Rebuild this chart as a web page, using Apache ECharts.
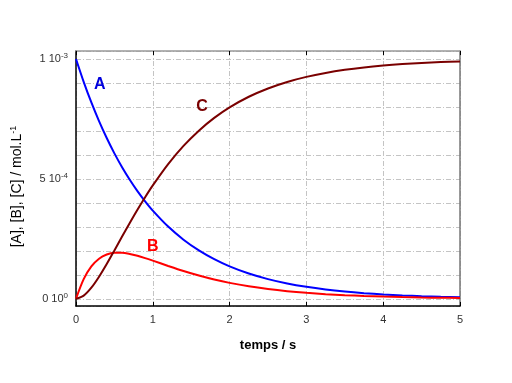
<!DOCTYPE html>
<html>
<head>
<meta charset="utf-8">
<script src="https://cdn.jsdelivr.net/npm/echarts@6/dist/echarts.min.js"></script>
<style>html,body{margin:0;padding:0;background:#fff}#c{width:512px;height:383px}</style>
</head>
<body>
<div id="c"></div>
<script>
// time (s)
var timeS = [0,0.1,0.2,0.3,0.4,0.5,0.6,0.7,0.8,0.9,1.0,1.2,1.4,1.6,1.8,2.0,2.25,2.5,2.75,3.0,3.25,3.5,3.75,4.0,4.25,4.5,4.75,5.0];
// concentrations in units of 1e-3 mol/L
var concA = [1,0.9048,0.8187,0.7408,0.6703,0.6065,0.5488,0.4966,0.4493,0.4066,0.3679,0.3012,0.2466,0.2019,0.1653,0.1353,0.1054,0.0821,0.0639,0.0498,0.0388,0.0302,0.0235,0.0183,0.0143,0.0111,0.0087,0.0067];
var concB = [0,0.0820,0.1350,0.1671,0.1846,0.1917,0.1918,0.1871,0.1793,0.1697,0.1591,0.1370,0.1158,0.0969,0.0804,0.0664,0.0521,0.0408,0.0318,0.0248,0.0194,0.0151,0.0118,0.0092,0.0071,0.0056,0.0043,0.0034];
var concC = [0,0.0132,0.0463,0.0921,0.1451,0.2018,0.2594,0.3163,0.3714,0.4237,0.4730,0.5618,0.6376,0.7012,0.7543,0.7983,0.8425,0.8771,0.9043,0.9254,0.9418,0.9547,0.9647,0.9725,0.9786,0.9833,0.9870,0.9899];
var xTicks = [0,1,2,3,4,5];
var yTickLabels = {'0':'0 10{s|0}','0.5':'5 10{s|-4}','1':'1 10{s|-3}'};

function pairs(v){ return timeS.map(function(t,i){return [t,v[i]];}); }

var chart = echarts.init(document.getElementById('c'));
var splitStyle = {color:'#c4c4c4', width:1, type:[5,2,1,2]};
var fontFam = 'Liberation Sans, Arial, sans-serif';
function lbl(text,color){
  return {symbol:'circle',symbolSize:1,itemStyle:{color:'rgba(0,0,0,0)'},
    label:{show:true,position:'inside',formatter:text,color:color,fontSize:16,fontWeight:'bold',fontFamily:fontFam}};
}
chart.setOption({
  animation:false,
  backgroundColor:'#fff',
  grid:{left:76,right:52,top:51,bottom:77,containLabel:false},
  xAxis:[{
    type:'value',min:0,max:5,interval:1,position:'bottom',
    name:'temps / s',nameLocation:'middle',nameGap:33,
    nameTextStyle:{fontSize:13,fontWeight:'bold',color:'#000',fontFamily:fontFam},
    axisLine:{show:true,onZero:false,lineStyle:{color:'#000',width:1.5}},
    axisTick:{show:true,inside:true,length:4,lineStyle:{color:'#000'}},
    axisLabel:{color:'#333',fontSize:11,margin:8,fontFamily:fontFam},
    splitLine:{show:true,lineStyle:splitStyle}
  },{
    type:'value',min:0,max:5,interval:1,position:'top',
    axisLine:{show:true,onZero:false,lineStyle:{color:'#999',width:1.5}},
    axisTick:{show:true,inside:true,length:4,lineStyle:{color:'#000'}},
    axisLabel:{show:false},splitLine:{show:false}
  }],
  yAxis:[{
    type:'value',min:-0.03,max:1.0333,splitNumber:10,position:'left',
    name:'[A], [B], [C] / mol.L{s|-1}',nameLocation:'middle',nameGap:51,
    nameTextStyle:{fontSize:14,fontWeight:'normal',color:'#000',fontFamily:fontFam,padding:[0,16,0,0],
      rich:{s:{fontSize:9,verticalAlign:'top',padding:[0,0,7,0],color:'#000'}}},
    axisLine:{show:true,onZero:false,lineStyle:{color:'#000',width:1.5}},
    axisTick:{show:false},
    axisLabel:{color:'#333',fontSize:11,margin:8,fontFamily:fontFam,showMinLabel:false,showMaxLabel:false,
      formatter:function(v){var k=String(Math.round(v*10)/10);return yTickLabels[k]||'';},
      rich:{s:{fontSize:8,verticalAlign:'top',padding:[0,0,6,0],color:'#333'}}},
    splitLine:{show:true,lineStyle:splitStyle}
  },{
    type:'value',min:-0.03,max:1.0333,position:'right',
    axisLine:{show:true,onZero:false,lineStyle:{color:'#777',width:1.5}},
    axisTick:{show:false},axisLabel:{show:false},splitLine:{show:false}
  }],
  series:[
    {name:'A',type:'line',data:pairs(concA),smooth:0.3,showSymbol:false,lineStyle:{color:'#0000ff',width:2},
      markPoint:{data:[Object.assign({coord:[0.31,0.892]},lbl('A','#0000dd'))]}},
    {name:'B',type:'line',data:pairs(concB),smooth:0.3,showSymbol:false,lineStyle:{color:'#ff0000',width:2},
      markPoint:{data:[Object.assign({coord:[1.0,0.217]},lbl('B','#ff0000'))]}},
    {name:'C',type:'line',data:pairs(concC),smooth:0.3,showSymbol:false,lineStyle:{color:'#7a0000',width:2},
      markPoint:{data:[Object.assign({coord:[1.64,0.80]},lbl('C','#7a0000'))]}}
  ]
});
</script>
</body>
</html>
